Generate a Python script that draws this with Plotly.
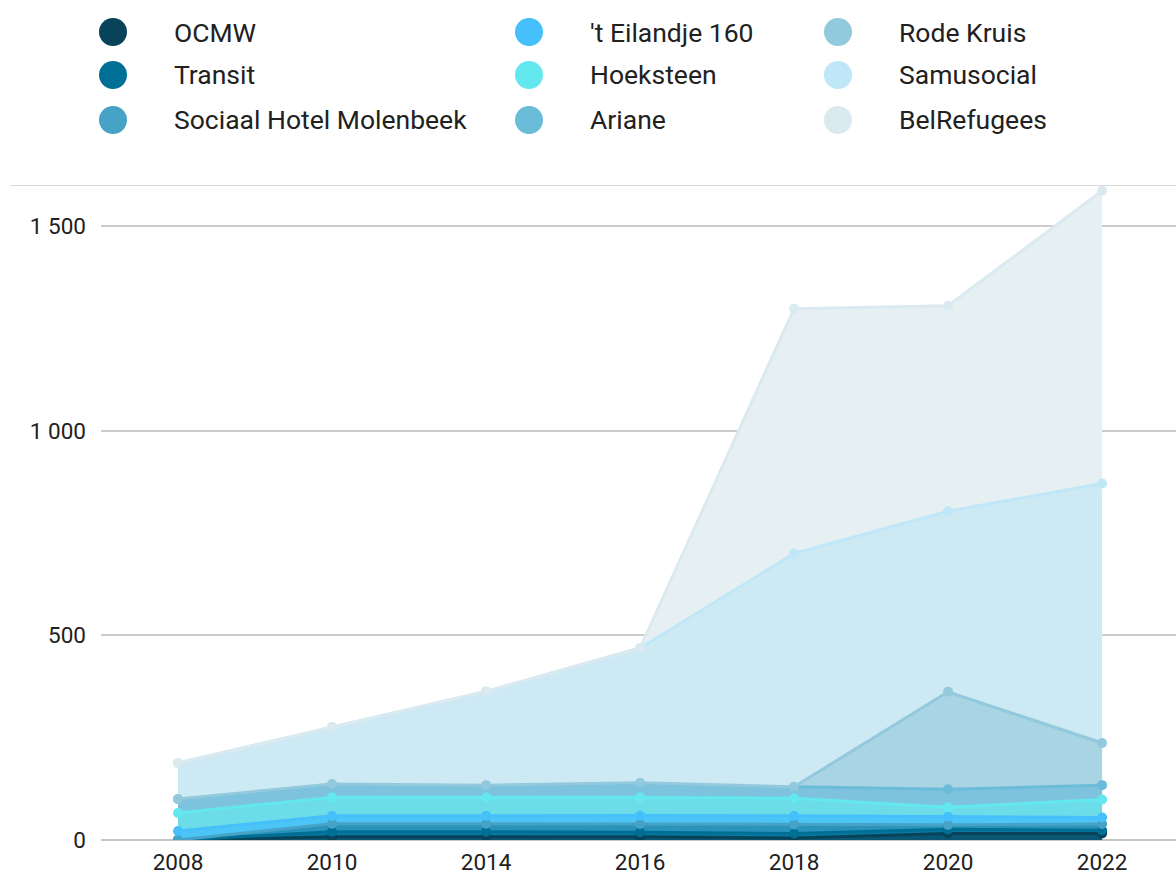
import plotly.graph_objects as go

# categories (years) and series, bottom of the stack first
years = ["2008", "2010", "2014", "2016", "2018", "2020", "2022"]

ocmw = [0, 8, 8, 8, 5, 16, 16]
transit = [0, 12, 12, 11, 11, 10, 8]
sociaal_hotel = [0, 20, 20, 20, 22, 11, 15]
eilandje = [22, 19, 19, 21, 21, 20, 16]
hoeksteen = [44, 45, 45, 44, 43, 23, 44]
ariane = [34, 33, 30, 36, 28, 44, 35]
rode_kruis = [0, 0, 0, 0, 0, 238, 103]
samusocial = [88, 139, 229, 329, 570, 441, 634]
belrefugees = [0, 0, 0, 0, 598, 502, 715]

series_names = ["OCMW", "Transit", "Sociaal Hotel Molenbeek", "'t Eilandje 160",
                "Hoeksteen", "Ariane", "Rode Kruis", "Samusocial", "BelRefugees"]
series_values = [ocmw, transit, sociaal_hotel, eilandje, hoeksteen, ariane,
                 rode_kruis, samusocial, belrefugees]

line_colors = ["#08435a", "#006f96", "#46a3c6", "#45c0fb", "#63e8ef",
               "#6bbcd9", "#93c9dd", "#c0e7f7", "#dbeaf0"]
fill_colors = ["#0b5673", "#0a7aa0", "#2a93bb", "#4cc4f6", "#6cdde8",
               "#7ec3dd", "#a8d4e4", "#cdeaf4", "#e6f0f3"]

W, H = 1176, 877
L, T, B = 101, 185, 37
plot_w, plot_h = W - L, H - T - B

fig = go.Figure()
for name, vals, lc, fc in zip(series_names, series_values, line_colors, fill_colors):
    fig.add_trace(go.Scatter(
        x=years, y=vals, name=name, stackgroup="one", mode="lines+markers",
        line=dict(color=lc, width=3), marker=dict(color=lc, size=10),
        fillcolor=fc, showlegend=False,
    ))

# custom legend: big dots + labels in 3 columns
col_x = [113, 529, 838]
row_y = [32, 75, 120]
font = "Roboto, Arial, sans-serif"
for i, (name, lc) in enumerate(zip(series_names, line_colors)):
    cx = (col_x[i // 3] - L) / plot_w
    cy = (H - B - row_y[i % 3]) / plot_h
    fig.add_shape(type="circle", xref="paper", yref="paper",
                  xsizemode="pixel", ysizemode="pixel", xanchor=cx, yanchor=cy,
                  x0=-14, x1=14, y0=-14, y1=14,
                  fillcolor=lc, line=dict(width=0))
    fig.add_annotation(xref="paper", yref="paper", x=cx + 59 / plot_w, y=cy,
                       text=name, showarrow=False, xanchor="left", yanchor="middle",
                       font=dict(family=font, size=26.5, color="#212121"))

# top border line
fig.add_shape(type="line", xref="paper", yref="y", x0=(10 - L) / plot_w, x1=1,
              y0=1600, y1=1600, line=dict(color="#cccccc", width=1.5))

fig.update_layout(
    width=W, height=H,
    margin=dict(l=L, r=0, t=T, b=B),
    plot_bgcolor="white", paper_bgcolor="white",
    font=dict(family=font, size=22.5, color="#212121"),
    separators=". ",
    xaxis=dict(type="category", range=[-0.5, 6.48], showgrid=False,
               showline=False, zeroline=False, ticks="", ticklabelstandoff=6,
               tickfont=dict(size=22.5)),
    yaxis=dict(range=[0, 1600], dtick=500, tickformat=",d", showgrid=True,
               gridcolor="#cccccc", gridwidth=1.5, zeroline=True,
               zerolinecolor="#c4c4c4", zerolinewidth=2, ticks="",
               ticklabelstandoff=14, tickfont=dict(size=22.5)),
    showlegend=False,
)

fig.write_html("out.html", config={"displayModeBar": False},
               post_script="document.body.style.margin='0';document.body.style.overflow='hidden';")
